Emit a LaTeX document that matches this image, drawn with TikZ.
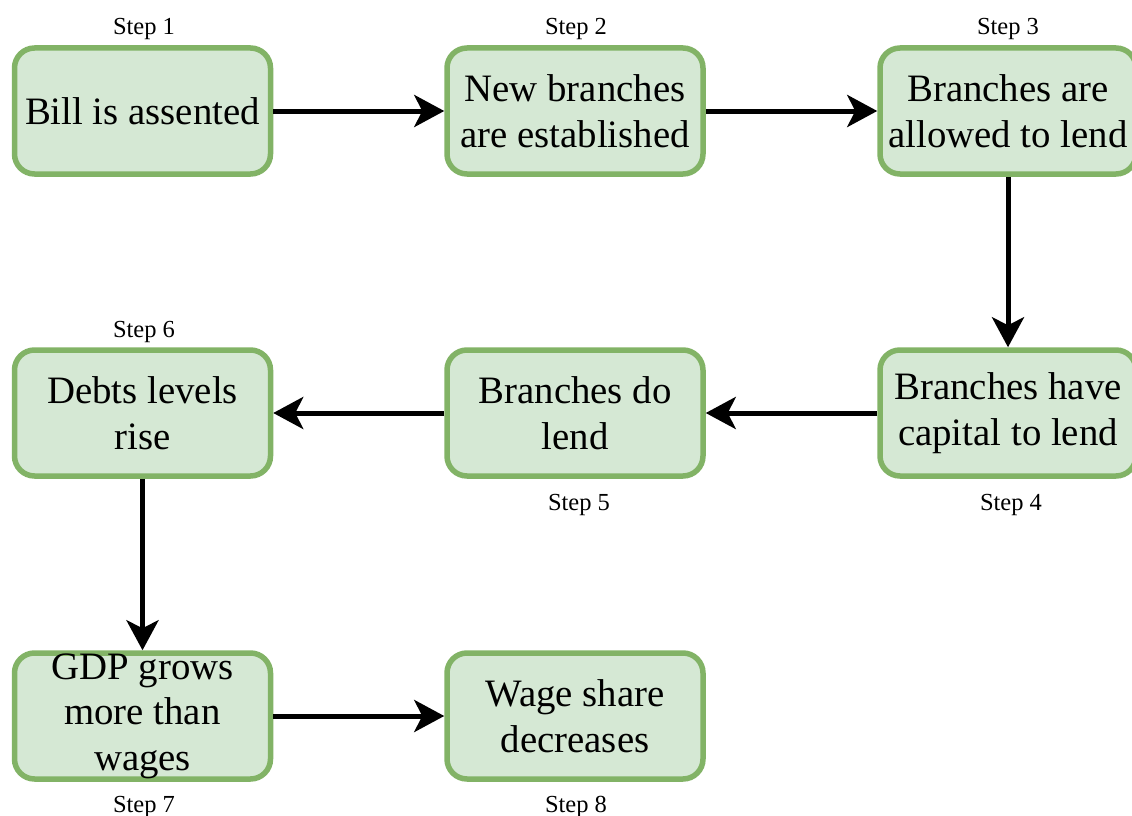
\documentclass[tikz,border=0pt]{standalone}
\usepackage{fontspec}
\setmainfont{Liberation Serif}
\usetikzlibrary{arrows.meta}
\begin{document}
\begin{tikzpicture}[x=1pt,y=-1pt,
  stepbox/.style={draw=stepgreen, fill=stepfill, line width=5.5pt, rounded corners=20pt,
    minimum width=256pt, minimum height=126pt, inner sep=0pt, align=center,
    font=\fontsize{38.8}{45.5}\selectfont},
  steplabel/.style={font=\fontsize{24.5}{28}\selectfont, inner sep=0pt},
  flow/.style={line width=5pt, -{Stealth[length=30pt,width=32pt,inset=8pt]}}]
\definecolor{stepgreen}{HTML}{82B366}
\definecolor{stepfill}{HTML}{D5E8D4}
\useasboundingbox (0,0) rectangle (1132,816);
\begin{scope}
\clip (0,0) rectangle (1132,816);
% boxes
\node[stepbox] (b1) at (142.5,111) {Bill is assented};
\node[stepbox] (b2) at (575,111) {New branches\\are established};
\node[stepbox] (b3) at (1008,111) {Branches are\\allowed to lend};
\node[stepbox] (b4) at (1008,413) {Branches have\\capital to lend};
\node[stepbox] (b5) at (575,413) {Branches do\\lend};
\node[stepbox] (b6) at (142.5,413) {Debts levels\\rise};
\node[stepbox] (b7) at (142.5,716) {GDP grows\\more than\\wages};
\node[stepbox] (b8) at (575,716) {Wage share\\decreases};
% step labels
\node[steplabel] (s1) at (144,29) {Step 1};
\node[steplabel] (s2) at (576,29) {Step 2};
\node[steplabel] (s3) at (1008,29) {Step 3};
\node[steplabel] (s4) at (1011,505) {Step 4};
\node[steplabel] (s5) at (579,505) {Step 5};
\node[steplabel] (s6) at (144,332) {Step 6};
\node[steplabel] (s7) at (144,807) {Step 7};
\node[steplabel] (s8) at (576,807) {Step 8};
% connectors
\draw[flow] (b1) -- (b2);
\draw[flow] (b2) -- (b3);
\draw[flow] (b3) -- (b4);
\draw[flow] (b4) -- (b5);
\draw[flow] (b5) -- (b6);
\draw[flow] (b6) -- (b7);
\draw[flow] (b7) -- (b8);
\end{scope}
\end{tikzpicture}
\end{document}
